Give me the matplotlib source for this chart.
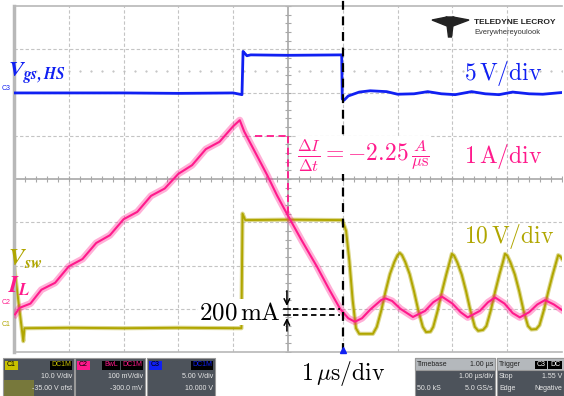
import numpy as np
import matplotlib.pyplot as plt
from matplotlib.patches import Rectangle, Polygon

plt.rcParams['mathtext.fontset'] = 'cm'

# trace positions in screen divisions (x: 1 us/div, y: divisions from bottom)
vgs_t = [0.0, 1.0, 2.0, 3.0, 4.0, 4.16, 4.18, 4.20, 4.25, 4.32, 5.0, 5.98,
         5.99, 6.02, 6.1, 6.3, 6.5, 6.8, 7.0, 7.3, 7.55, 7.8, 8.05, 8.35,
         8.6, 8.85, 9.1, 9.4, 9.65, 10.0]
vgs_y = [5.99, 5.99, 5.99, 5.98, 5.99, 5.95, 6.95, 6.92, 6.85, 6.87, 6.86,
         6.87, 5.85, 5.82, 5.92, 6.01, 6.04, 6.02, 5.96, 5.97, 6.02, 5.97,
         5.95, 6.02, 5.97, 5.95, 6.01, 5.97, 5.96, 6.00]

il_t = [0.02, 0.1, 0.3, 0.5, 0.75, 1.0, 1.25, 1.5, 1.75, 2.0, 2.25, 2.5,
        2.75, 3.0, 3.25, 3.5, 3.75, 4.0, 4.12, 4.2, 4.4, 4.62, 4.8, 5.0,
        5.25, 5.53, 5.75, 5.95, 6.1, 6.22, 6.35, 6.5, 6.7, 6.78, 6.9, 7.05,
        7.28, 7.5, 7.65, 7.81, 8.0, 8.15, 8.28, 8.5, 8.65, 8.78, 8.95, 9.1,
        9.23, 9.4, 9.55, 9.69, 9.85, 10.0]
il_y = [0.87, 1.02, 1.12, 1.44, 1.60, 1.98, 2.15, 2.52, 2.70, 3.07, 3.24,
        3.61, 3.78, 4.12, 4.32, 4.69, 4.86, 5.22, 5.36, 5.10, 4.62, 4.09,
        3.62, 3.15, 2.58, 1.97, 1.45, 1.00, 0.78, 0.70, 0.78, 0.98, 1.20,
        1.24, 1.18, 1.00, 0.81, 0.95, 1.15, 1.28, 1.12, 0.92, 0.80, 0.95,
        1.15, 1.26, 1.12, 0.90, 0.80, 0.92, 1.10, 1.20, 1.10, 0.97]

vsw_t = [0.0, 0.17, 0.19, 1.0, 2.0, 3.0, 4.15, 4.17, 4.22, 5.0, 5.99, 6.06,
         6.12, 6.18, 6.24, 6.30, 6.55, 6.62, 6.70, 6.78, 6.86, 6.94, 7.00,
         7.04, 7.08, 7.14, 7.22, 7.30, 7.38, 7.46, 7.52, 7.60, 7.65, 7.73,
         7.81, 7.89, 7.95, 7.99, 8.03, 8.09, 8.17, 8.25, 8.33, 8.41, 8.47,
         8.56, 8.62, 8.70, 8.78, 8.86, 8.92, 8.96, 9.00, 9.06, 9.14, 9.22,
         9.30, 9.38, 9.44, 9.53, 9.59, 9.67, 9.75, 9.83, 9.89, 9.93, 9.97,
         10.0]
vsw_y = [2.00, 0.25, 0.55, 0.56, 0.55, 0.56, 0.55, 3.20, 3.05, 3.06, 3.05,
         2.80, 2.10, 1.20, 0.55, 0.42, 0.42, 0.58, 0.95, 1.40, 1.80, 2.08,
         2.24, 2.29, 2.24, 2.08, 1.80, 1.40, 0.95, 0.58, 0.46, 0.47, 0.58,
         0.95, 1.40, 1.80, 2.08, 2.27, 2.23, 2.07, 1.79, 1.40, 0.95, 0.58,
         0.49, 0.51, 0.60, 0.96, 1.40, 1.80, 2.07, 2.27, 2.23, 2.07, 1.79,
         1.40, 0.95, 0.60, 0.52, 0.53, 0.62, 0.97, 1.40, 1.79, 2.06, 2.24,
         2.21, 2.15]

BLUE = '#1020f2'
PINK = '#ff1a8c'
OLIVE = '#b0a600'
GRID = '#c4c4c4'

fig = plt.figure(figsize=(5.64, 3.96), dpi=100)
ax = fig.add_axes([14 / 564, 1 - 352 / 396, 548 / 564, 346 / 396])
ax.set_xlim(0, 10)
ax.set_ylim(0, 8)
ax.set_xticks([])
ax.set_yticks([])
ax.spines['right'].set_visible(False)
ax.spines['left'].set_color('#b8b8b8')
ax.spines['left'].set_linewidth(2.5)
for s in ['top', 'bottom']:
    ax.spines[s].set_color('#b8b8b8')
    ax.spines[s].set_linewidth(1.2)

# grid
for i in range(1, 10):
    if i == 5:
        ax.axvline(i, color='#a8a8a8', lw=1.2, zorder=1)
    else:
        ax.axvline(i, color=GRID, lw=0.8, ls=(0, (3, 2)), zorder=1)
for j in range(1, 8):
    if j == 4:
        ax.axhline(j, color='#a8a8a8', lw=1.2, zorder=1)
    else:
        ax.axhline(j, color=GRID, lw=0.8, ls=(0, (3, 2)), zorder=1)
minor = np.arange(0, 10.01, 0.2)
ax.plot(minor, np.full_like(minor, 4), ls='none', marker='|', ms=4,
        color='#a8a8a8', mew=0.8, zorder=1)
minor_v = np.arange(0, 8.01, 0.2)
ax.plot(np.full_like(minor_v, 5), minor_v, ls='none', marker='_', ms=4,
        color='#a8a8a8', mew=0.8, zorder=1)
ax.plot(minor, np.full_like(minor, 6.5), ls='none', marker='.', ms=1.0,
        color='#b8b8b8', zorder=1)

# traces
ax.plot(vsw_t, vsw_y, color=OLIVE, lw=3, alpha=0.45, zorder=2)
ax.plot(vsw_t, vsw_y, color=OLIVE, lw=1.4, zorder=2)
ax.plot(il_t, il_y, color=PINK, lw=5, alpha=0.35, zorder=3)
ax.plot(il_t, il_y, color=PINK, lw=1.5, zorder=3)
ax.plot(vgs_t, vgs_y, color=BLUE, lw=2.0, zorder=3)

# trigger line
ax.plot([6.0, 6.0], [0, 8.14], color='black', lw=1.6, ls=(0, (4, 3)),
        clip_on=False, zorder=4)
ax.plot([6.0], [0.04], marker='^', color=BLUE, ms=4, clip_on=False, zorder=5)

# slope annotation
ax.plot([4.40, 5.0], [5.0, 5.0], color=PINK, lw=1.3, ls=(0, (4, 2.5)), zorder=4)
ax.plot([5.0, 5.0], [5.0, 3.1], color=PINK, lw=1.3, ls=(0, (4, 2.5)), zorder=4)
ax.text(5.16, 4.55, r'$\frac{\Delta I}{\Delta t}=-2.25\,\frac{A}{\mu\mathrm{s}}$',
        color=PINK, fontsize=17, va='center', ha='left', zorder=6,
        bbox=dict(fc='white', ec='none', pad=0.5))

# ripple annotation
ax.plot([5.1, 5.95], [1.0, 1.0], color='black', lw=1.3, ls=(0, (3, 2)), zorder=4)
ax.plot([5.1, 5.95], [0.85, 0.85], color='black', lw=1.3, ls=(0, (3, 2)), zorder=4)
ax.plot([4.92, 5.04], [1.0, 1.0], color='black', lw=1.2, zorder=4)
ax.plot([4.92, 5.04], [0.85, 0.85], color='black', lw=1.2, zorder=4)
ax.annotate('', xy=(4.98, 1.0), xytext=(4.98, 1.48),
            arrowprops=dict(arrowstyle='->', lw=1.1, color='black'))
ax.annotate('', xy=(4.98, 0.85), xytext=(4.98, 0.42),
            arrowprops=dict(arrowstyle='->', lw=1.1, color='black'))
ax.text(4.87, 0.92, r'$200\,\mathrm{mA}$', fontsize=18, ha='right', va='center',
        zorder=6, bbox=dict(fc='white', ec='none', pad=0.5))

# scale labels
ax.text(8.92, 6.45, r'$5\,\mathrm{V/div}$', color=BLUE, fontsize=17,
        ha='center', va='center')
ax.text(8.92, 4.53, r'$1\,\mathrm{A/div}$', color=PINK, fontsize=17,
        ha='center', va='center')
ax.text(9.03, 2.68, r'$10\,\mathrm{V/div}$', color=OLIVE, fontsize=17,
        ha='center', va='center')
ax.text(6.0, -0.49, r'$1\,\mu\mathrm{s/div}$', color='black', fontsize=17,
        ha='center', va='center', clip_on=False)

# channel names
ax.text(-0.11, 6.33, r'$\mathbfit{V}_{\mathbfit{gs,HS}}$', color=BLUE,
        fontsize=16, math_fontfamily='stix', ha='left', va='baseline')
ax.text(-0.11, 1.99, r'$\mathbfit{V}_{\mathbfit{sw}}$', color=OLIVE,
        fontsize=17, math_fontfamily='stix', ha='left', va='baseline')
ax.text(-0.11, 1.36, r'$\mathbfit{I}_{\mathbfit{L}}$', color=PINK,
        fontsize=17, math_fontfamily='stix', ha='left', va='baseline')

# overlay in pixel coordinates for the scope furniture
ov = fig.add_axes([0, 0, 1, 1])
ov.set_xlim(0, 564)
ov.set_ylim(396, 0)
ov.axis('off')

small = dict(fontsize=5, family='Liberation Sans')
ov.text(6, 89, 'C3', color=BLUE, ha='center', va='center', **small)
ov.text(6, 303, 'C2', color=PINK, ha='center', va='center', **small)
ov.text(6, 325, 'C1', color=OLIVE, ha='center', va='center', **small)

# logo
ov.add_patch(Polygon([[432, 20], [447, 17], [447, 26]], color='#222222'))
ov.add_patch(Polygon([[453, 17], [469, 20], [453, 26]], color='#222222'))
ov.add_patch(Polygon([[446, 17], [454, 17], [451.5, 37], [448.5, 37]], color='#222222'))
ov.text(474, 22, 'TELEDYNE LECROY', fontsize=6.0, family='Liberation Sans',
        weight='bold', color='#222222', va='center', ha='left')
ov.text(474, 33, 'Everywhereyoulook', fontsize=5.4, family='Liberation Sans',
        color='#333333', va='center', ha='left')

BOX = '#4d535b'
TXT = '#e8e8e8'


def channel_box(x, w, name, col, chips, rows):
    ov.add_patch(Rectangle((x, 358), w, 40, fc=BOX, ec='#999999', lw=0.8))
    ov.add_patch(Rectangle((x + 2, 360.5), 13, 9, fc=col))
    ov.text(x + 8.5, 365, name, color='black', ha='center', va='center', **small)
    cx = x + w - 2
    for label in chips[::-1]:
        cw = 5 + 4.2 * len(label)
        ov.add_patch(Rectangle((cx - cw, 360.5), cw, 9, fc='black'))
        ov.text(cx - cw / 2, 365, label, color=col, ha='center', va='center', **small)
        cx -= cw + 1.5
    ov.text(x + w - 2, 377, rows[0], color=TXT, ha='right', va='center', **small)
    ov.text(x + w - 2, 388.5, rows[1], color=TXT, ha='right', va='center', **small)


channel_box(3, 71, 'C1', '#c8c000', ['DC1M'], ['10.0 V/div', '-35.00 V ofst'])
ov.add_patch(Rectangle((4, 380), 30, 16, fc='#c8c000', alpha=0.35, lw=0))
channel_box(75, 70, 'C2', PINK, ['BwL', 'DC1M'], ['100 mV/div', '-300.0 mV'])
channel_box(147, 68, 'C3', BLUE, ['DC1M'], ['5.00 V/div', '10.000 V'])

# timebase and trigger boxes
for x, w in [(415, 80), (497, 67)]:
    ov.add_patch(Rectangle((x, 358), w, 40, fc=BOX, ec='#999999', lw=0.8))
    ov.add_patch(Rectangle((x, 358), w, 12, fc='#b4b8bc', ec='#999999', lw=0.8))
ov.text(417, 364.5, 'Timebase', color='#222222', ha='left', va='center', **small)
ov.text(493, 364.5, '1.00 µs', color='#222222', ha='right', va='center', **small)
ov.text(493, 377, '1.00 µs/div', color=TXT, ha='right', va='center', **small)
ov.text(417, 388.5, '50.0 kS', color=TXT, ha='left', va='center', **small)
ov.text(493, 388.5, '5.0 GS/s', color=TXT, ha='right', va='center', **small)
ov.text(499, 364.5, 'Trigger', color='#222222', ha='left', va='center', **small)
ov.add_patch(Rectangle((535, 360.5), 12, 8, fc='black'))
ov.add_patch(Rectangle((548, 360.5), 14, 8, fc='black'))
ov.text(541, 364.5, 'C3', color='white', ha='center', va='center', **small)
ov.text(555, 364.5, 'DC', color='white', ha='center', va='center', **small)
ov.text(499, 377, 'Stop', color=TXT, ha='left', va='center', **small)
ov.text(562, 377, '1.55 V', color=TXT, ha='right', va='center', **small)
ov.text(499, 388.5, 'Edge', color=TXT, ha='left', va='center', **small)
ov.text(562, 388.5, 'Negative', color=TXT, ha='right', va='center', **small)

fig.savefig('out.png', dpi=100)
